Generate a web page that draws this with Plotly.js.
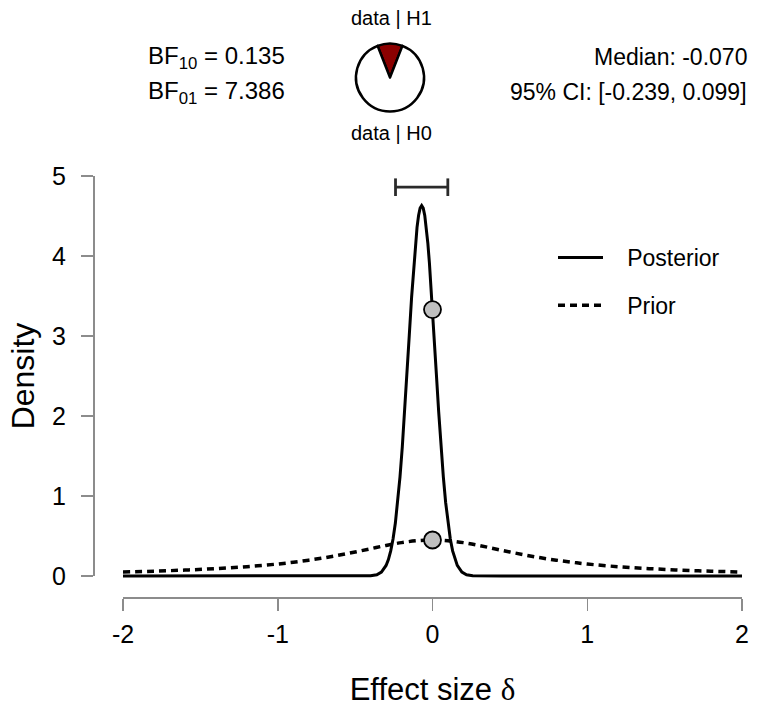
<!DOCTYPE html>
<html>
<head>
<meta charset="utf-8">
<script src="https://cdn.plot.ly/plotly-3.0.1.min.js"></script>
<style>html,body{margin:0;padding:0;background:#fff;}#chart{width:763px;height:715px;}</style>
</head>
<body>
<div id="chart"></div>
<script>
// Posterior density
const postX = [-2, -1, -0.6, -0.45, -0.4, -0.36, -0.33, -0.3, -0.285, -0.27, -0.255, -0.24, -0.225, -0.21, -0.195, -0.18, -0.165, -0.15, -0.135, -0.12, -0.11, -0.10, -0.09, -0.08, -0.07, -0.06, -0.05, -0.04, -0.03, -0.02, -0.005, 0.01, 0.025, 0.04, 0.055, 0.07, 0.085, 0.10, 0.115, 0.13, 0.145, 0.16, 0.19, 0.22, 0.26, 0.31, 0.45, 1, 2];
const postY = [0, 0, 0, 0, 0.003, 0.016, 0.049, 0.132, 0.206, 0.314, 0.463, 0.662, 0.919, 1.238, 1.618, 2.051, 2.523, 3.01, 3.485, 3.913, 4.157, 4.358, 4.507, 4.599, 4.63, 4.599, 4.507, 4.358, 4.157, 3.913, 3.485, 3.01, 2.523, 2.051, 1.618, 1.238, 0.919, 0.662, 0.463, 0.314, 0.206, 0.132, 0.049, 0.016, 0.003, 0, 0, 0, 0];
// Prior density
const priorX = [-2, -1.8, -1.6, -1.4, -1.2, -1, -0.9, -0.8, -0.7, -0.6, -0.5, -0.4, -0.3, -0.2, -0.1, 0, 0.1, 0.2, 0.3, 0.4, 0.5, 0.6, 0.7, 0.8, 0.9, 1, 1.2, 1.4, 1.6, 1.8, 2];
const priorY = [0.050, 0.060, 0.074, 0.092, 0.116, 0.150, 0.172, 0.198, 0.227, 0.262, 0.300, 0.341, 0.382, 0.417, 0.441, 0.450, 0.441, 0.417, 0.382, 0.341, 0.300, 0.262, 0.227, 0.198, 0.172, 0.150, 0.116, 0.092, 0.074, 0.060, 0.050];
// Density at delta = 0
const pointX = [0, 0];
const pointY = [3.33, 0.45];
// Credible interval
const ciLow = -0.239, ciHigh = 0.099, ciY = 4.86;
// Bayes factors and summaries
const bf10 = 0.135, bf01 = 7.386;
const median = -0.070;
const pieValues = [bf10, 1];
const pieLabels = ['data | H1', 'data | H0'];
const legendNames = ['Posterior', 'Prior'];
const xTicks = [-2, -1, 0, 1, 2];
const yTicks = [0, 1, 2, 3, 4, 5];

const FONT = 'Liberation Sans, Arial, sans-serif';
const W = 763, H = 715;
const px = v => v / W;
const py = v => (H - v) / H;
const pad = '\u00a0\u00a0\u00a0';

const traces = [
  {
    x: postX, y: postY, type: 'scatter', mode: 'lines', name: pad + legendNames[0],
    line: {color: '#000', width: 3}, xaxis: 'x', yaxis: 'y',
    legendgroup: 'a', hoverinfo: 'skip'
  },
  {
    x: priorX, y: priorY, type: 'scatter', mode: 'lines', name: pad + legendNames[1],
    line: {color: '#000', width: 3.5, dash: '7px,5px', shape: 'spline'}, xaxis: 'x', yaxis: 'y',
    legendgroup: 'b', hoverinfo: 'skip'
  },
  {
    x: [ciLow, ciHigh], y: [ciY, ciY], type: 'scatter', mode: 'lines', showlegend: false,
    line: {color: '#2a2a2a', width: 2.8}, xaxis: 'x', yaxis: 'y', hoverinfo: 'skip',
    error_y: {type: 'constant', value: 0.11, width: 0, thickness: 2.8, color: '#2a2a2a'}
  },
  {
    x: pointX, y: pointY, type: 'scatter', mode: 'markers', showlegend: false,
    marker: {size: 17, color: '#c0c0c0', line: {color: '#000', width: 1.8}},
    xaxis: 'x', yaxis: 'y2', cliponaxis: false, hoverinfo: 'skip'
  },
  {
    type: 'pie', values: pieValues, labels: pieLabels, sort: false, direction: 'clockwise',
    rotation: -(360 * pieValues[0] / (pieValues[0] + pieValues[1])) / 2,
    marker: {colors: ['#8b0000', '#ffffff'], line: {color: '#000', width: 2.5}},
    textinfo: 'none', hoverinfo: 'skip', showlegend: false,
    domain: {x: [px(356), px(424)], y: [py(112), py(43)]}
  }
];

const axisCommon = {
  showgrid: false, zeroline: false, showline: true, linecolor: '#8c8c8c', linewidth: 1.5,
  ticks: 'outside', ticklen: 12, tickwidth: 1.5, tickcolor: '#8c8c8c',
  tickfont: {family: FONT, size: 25, color: '#000'}
};

const layout = {
  width: W, height: H,
  margin: {l: 0, r: 0, t: 0, b: 0},
  paper_bgcolor: '#fff', plot_bgcolor: 'rgba(0,0,0,0)',
  font: {family: FONT, color: '#000'},
  showlegend: true,
  legend: {
    x: px(553), y: py(236), xanchor: 'left', yanchor: 'top',
    font: {family: FONT, size: 23, color: '#000'},
    bgcolor: 'rgba(0,0,0,0)', traceorder: 'grouped', tracegroupgap: 15, itemwidth: 45
  },
  xaxis: Object.assign({}, axisCommon, {
    domain: [px(123), px(742)], range: [-2, 2], anchor: 'free', position: py(597),
    tickvals: xTicks, ticktext: xTicks.map(String), ticklabelstandoff: 2,
    title: {text: 'Effect size <span style="font-family:Liberation Serif">δ</span>', font: {family: FONT, size: 31, color: '#000'}, standoff: 32}
  }),
  yaxis: {
    domain: [py(588), py(164)], range: [-0.15, 5.15], visible: false, anchor: 'x',
    showgrid: false, zeroline: false
  },
  yaxis2: Object.assign({}, axisCommon, {
    domain: [py(576), py(176)], range: [0, 5], anchor: 'free', position: px(93),
    tickvals: yTicks, ticktext: yTicks.map(String), ticklabelstandoff: 10,
    title: {text: 'Density', font: {family: FONT, size: 32, color: '#000'}, standoff: 6}
  }),
  annotations: [
    {text: 'BF<sub>10</sub> = ' + bf10.toFixed(3), x: px(146), y: py(57), xref: 'paper', yref: 'paper', xanchor: 'left', yanchor: 'middle', showarrow: false, font: {family: FONT, size: 24, color: '#000'}},
    {text: 'BF<sub>01</sub> = ' + bf01.toFixed(3), x: px(146), y: py(92), xref: 'paper', yref: 'paper', xanchor: 'left', yanchor: 'middle', showarrow: false, font: {family: FONT, size: 24, color: '#000'}},
    {text: 'Median: ' + median.toFixed(3), x: px(749), y: py(57), xref: 'paper', yref: 'paper', xanchor: 'right', yanchor: 'middle', showarrow: false, font: {family: FONT, size: 23, color: '#000'}},
    {text: '95% CI: [' + ciLow.toFixed(3) + ', ' + ciHigh.toFixed(3) + ']', x: px(749), y: py(92), xref: 'paper', yref: 'paper', xanchor: 'right', yanchor: 'middle', showarrow: false, font: {family: FONT, size: 23, color: '#000'}},
    {text: pieLabels[0], x: px(391), y: py(18), xref: 'paper', yref: 'paper', xanchor: 'center', yanchor: 'middle', showarrow: false, font: {family: FONT, size: 20, color: '#000'}},
    {text: pieLabels[1], x: px(391), y: py(133), xref: 'paper', yref: 'paper', xanchor: 'center', yanchor: 'middle', showarrow: false, font: {family: FONT, size: 20, color: '#000'}}
  ]
};

Plotly.newPlot('chart', traces, layout, {staticPlot: true, displayModeBar: false});
</script>
</body>
</html>
